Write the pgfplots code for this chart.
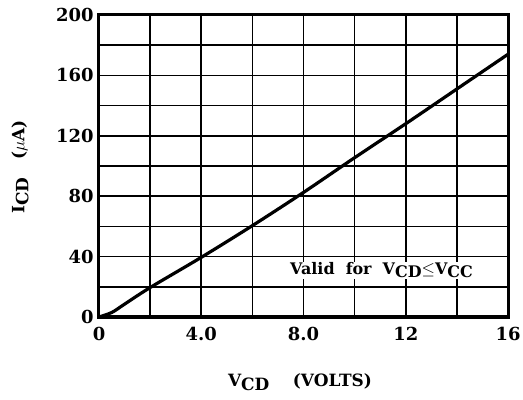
\documentclass[border=0pt]{standalone}
\usepackage{fontspec}
\setmainfont{DejaVu Serif}[BoldFont={DejaVu Serif Bold}]
\usepackage{pgfplots}
\pgfplotsset{compat=1.18}
\begin{document}
\begin{tikzpicture}
\begin{axis}[
  name=ax,
  scale only axis,
  width=409bp, height=302bp,
  xmin=0, xmax=16, ymin=0, ymax=200,
  xtick={0,4,8,12,16},
  xticklabels={0,4.0,8.0,12,16},
  minor xtick={2,6,10,14},
  ytick={0,40,80,120,160,200},
  minor ytick={20,60,100,140,180},
  grid=both,
  major grid style={black, line width=1.5bp},
  minor grid style={black, line width=1.5bp},
  axis line style={line width=3bp},
  tick style={draw=none},
  /pgf/number format/assume math mode=true,
  ticklabel style={font=\fontsize{18}{20}\selectfont\bfseries},
  xticklabel style={yshift=-7bp},
  yticklabel style={xshift=-2bp},
]
\addplot[black, line width=3.2bp, smooth] coordinates {
(0,0) (0.5,3) (1,8.5) (2,19.5) (4,39.5) (6,60.5) (8,82.5) (10,105.5) (12,128) (14,151) (16,174)
};
\node[fill=white, inner sep=1bp, font=\fontsize{16}{18}\selectfont\bfseries] at (axis cs:11.05,31) {Valid\ \ for\ \ V\raisebox{-3bp}{CD}$\leq$V\raisebox{-3bp}{CC}};
\end{axis}
\node[font=\fontsize{17}{19}\selectfont\bfseries] at ([xshift=201bp,yshift=-65bp]ax.south west) {V\raisebox{-4bp}{CD}\ \ \ \ (VOLTS)};
\node[rotate=90, font=\fontsize{17}{19}\selectfont\bfseries] at ([xshift=-79bp,yshift=150bp]ax.south west) {I\raisebox{-4bp}{CD}\ \ \ ($\mu$A)};
\pgfresetboundingbox
\path ([xshift=-99bp,yshift=-83bp]ax.south west) rectangle ++(523bp,400bp);
\end{tikzpicture}
\end{document}
